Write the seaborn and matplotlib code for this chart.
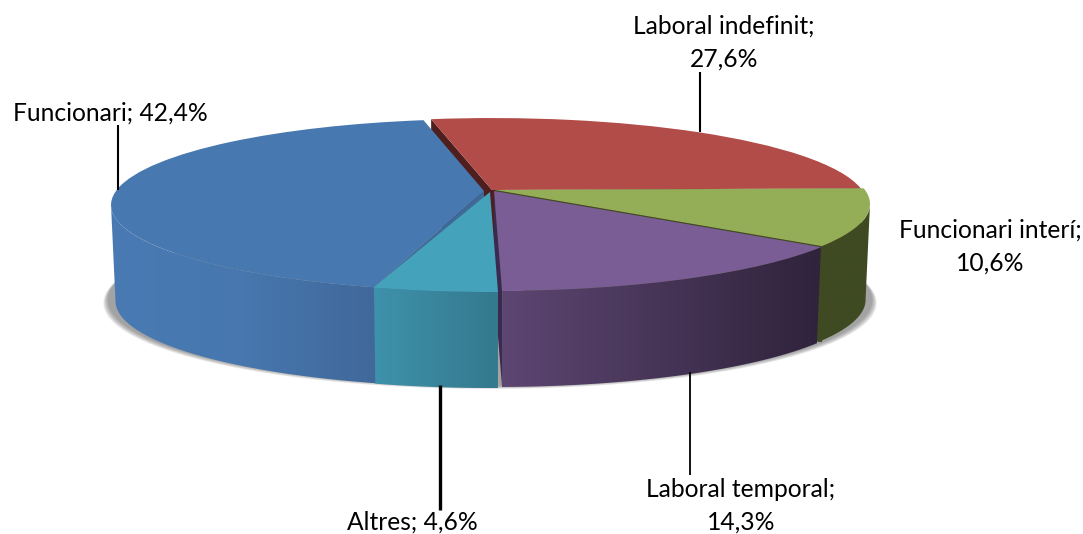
import numpy as np
import matplotlib
matplotlib.use("Agg")
import matplotlib.pyplot as plt
from matplotlib.colors import LinearSegmentedColormap
from matplotlib.patches import Polygon
from matplotlib.transforms import Transform
import seaborn as sns

categories = ["Laboral indefinit", "Funcionari interí", "Laboral temporal", "Altres", "Funcionari"]
shares = [27.6, 10.6, 14.3, 4.6, 42.4]
top_colors = ["#b14c48", "#93ae57", "#7a5d95", "#45a2bb", "#4878b0"]
side_colors = [("#4f1f1f", "#4f1f1f"), ("#3f4a22", "#3f4a22"), ("#5d4672", "#30233c"),
               ("#3e92ab", "#34798d"), ("#4a7ab3", "#4777ae", "#40689b")]
cut_colors = ["#4f1f1f", "#3f4a22", "#3a2a50", "#34798d", "#3e6a98"]

sns.set_theme(style="white")
plt.rcParams["font.family"] = ["Lato", "DejaVu Sans"]

K, A, DEPTH = 0.163, 83.7, 96.0
SILHOUETTE = 9.4
apex = [(492, 190, 370), (495, 190, 370), (494, 191, 370), (490, 192, 366), (484, 191, 368)]


class Tilt(Transform):
    input_dims = output_dims = 2
    is_separable = False
    has_inverse = False

    def __init__(self, cx, cy, rx):
        super().__init__()
        self.cx, self.cy, self.rx = cx, cy, rx

    def transform_non_affine(self, values):
        v = np.asarray(values, float)
        w = 1 + K * v[:, 1]
        return np.column_stack([self.cx + self.rx * v[:, 0] / w,
                                self.cy - A * v[:, 1] / w])


fig = plt.figure(figsize=(10.83, 5.34), dpi=100)
ax = fig.add_axes([0, 0, 1, 1])
wedges, _ = ax.pie(shares, colors=sns.color_palette(top_colors), startangle=101,
                   counterclock=False, radius=1)
ax.set_aspect("auto")
ax.axis("off")
wedges[4].set_theta2(wedges[4].theta2 + 1.0)


def rim(t, thetas, shift=0.0, shrink=1.0):
    th = np.radians(thetas)
    pts = t.transform_non_affine(np.column_stack([np.cos(th) * shrink, np.sin(th)]))
    pts[:, 1] += shift
    return pts


# soft shadow below the body
base = Tilt(490, 286, 377)
th_all = np.linspace(0, 360, 361)
for k in range(7):
    ax.add_patch(Polygon(rim(base, th_all, 0, 1 + k * 0.002) + [0, k * 0.5],
                         closed=True, fc="#555555", ec="none", alpha=0.10, zorder=1))

# faces and tops
for i, w in enumerate(wedges):
    cx, cy, rx = apex[i]
    t = Tilt(cx, cy, rx)
    low, high = w.theta1, w.theta2
    w.set_transform(t + ax.transData)
    w.set_zorder(5)
    w.set_edgecolor("none")

    # cut faces that show in the gaps between slices
    cut_edges = {0: [low, high], 1: [low], 2: [low], 4: [high]}.get(i, [])
    for a in cut_edges:
        p = rim(t, [a])[0]
        ax.add_patch(Polygon([(cx, cy), p, p + [0, DEPTH], (cx, cy + DEPTH)], closed=True,
                             fc=cut_colors[i], ec="none", zorder=2 + (i == 4) * 0.1))

    # outer wall with a horizontal gradient (only the front of the rim shows)
    front_a, front_b = 180 + SILHOUETTE, 360 - SILHOUETTE
    for turn in (-360, 0, 360):
        a, b = max(low + turn, front_a), min(high + turn, front_b)
        if b <= a:
            continue
        thetas = np.linspace(a, b, 80)
        upper = rim(t, thetas)
        lower = rim(t, thetas, DEPTH, 0.988)[::-1]
        poly = np.vstack([upper, lower])
        cmap = LinearSegmentedColormap.from_list("side", side_colors[i])
        im = ax.imshow(np.linspace(0, 1, 256)[None, :], cmap=cmap, aspect="auto",
                       extent=(poly[:, 0].min(), poly[:, 0].max(), poly[:, 1].max(), poly[:, 1].min()),
                       zorder=3 + 0.1 * i, interpolation="bilinear")
        clip = Polygon(poly, closed=True, transform=ax.transData, fc="none", ec="none")
        ax.add_patch(clip)
        im.set_clip_path(clip)

ax.set_xlim(0, 1083)
ax.set_ylim(534, 0)

# leader lines
ax.plot([700, 700], [72, 132], color="black", lw=1.5, zorder=8, solid_capstyle="butt")
ax.plot([118, 118], [125, 190], color="black", lw=1.5, zorder=8, solid_capstyle="butt")
ax.plot([440, 440], [385, 510], color="black", lw=2.4, zorder=8, solid_capstyle="butt")
ax.plot([690, 690], [372, 475], color="black", lw=1.3, zorder=8, solid_capstyle="butt")


def label(i):
    return f"{categories[i]}; {shares[i]:.1f}%".replace(".", ",")


fs = 17.7
ls = 1.52
ax.text(724, 43, label(0).replace("; ", ";\n"), ha="center", va="center", fontsize=fs, linespacing=ls, color="black", zorder=9)
ax.text(990, 247, label(1).replace("; ", ";\n"), ha="center", va="center", fontsize=fs, linespacing=ls, color="black", zorder=9)
ax.text(741, 506, label(2).replace("; ", ";\n"), ha="center", va="center", fontsize=fs, linespacing=ls, color="black", zorder=9)
ax.text(412, 522, label(3), ha="center", va="center", fontsize=fs, color="black", zorder=9)
ax.text(110, 113, label(4), ha="center", va="center", fontsize=fs, color="black", zorder=9)

fig.savefig("out.png", dpi=100, facecolor="white")
